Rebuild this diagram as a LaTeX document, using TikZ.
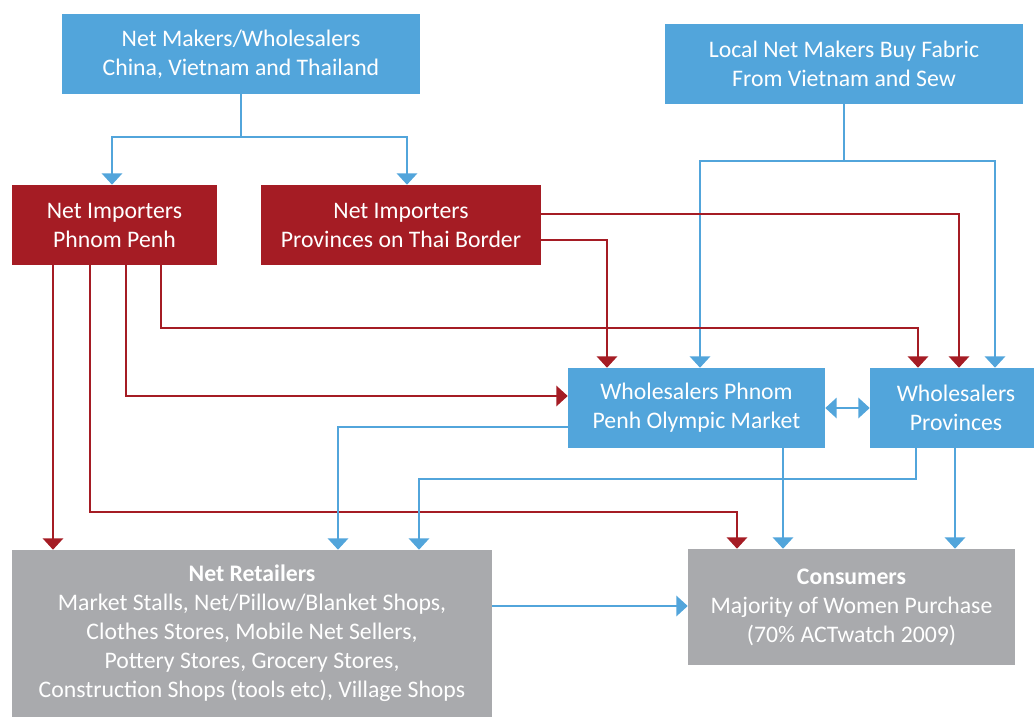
\documentclass[tikz,border=0pt]{standalone}
\usepackage{fontspec}
\setmainfont{Carlito}
\usetikzlibrary{arrows.meta}
\definecolor{cblue}{HTML}{52A5DB}
\definecolor{cred}{HTML}{A51C24}
\definecolor{cgray}{HTML}{A9AAAD}
\begin{document}
\begin{tikzpicture}[x=0.75pt,y=-0.75pt,
  box/.style={inner sep=0pt, text=white, align=center, font=\fontsize{17.8}{21.75}\selectfont},
  bbox/.style={box, fill=cblue},
  rbox/.style={box, fill=cred},
  gbox/.style={box, fill=cgray},
  bl/.style={draw=cblue, line width=2.1pt},
  rd/.style={draw=cred, line width=2.1pt},
  tip/.style={-{Triangle[width=15pt,length=8.5pt]}},
  tips/.style={{Triangle[width=15pt,length=8.5pt]}-{Triangle[width=15pt,length=8.5pt]}}
]
\useasboundingbox (0,0) rectangle (1034,717);
\node[bbox, minimum width={358*0.75pt}, minimum height={80*0.75pt}] (nm) at (241,54) {Net Makers/Wholesalers\\China, Vietnam and Thailand};
\node[bbox, minimum width={358*0.75pt}, minimum height={80*0.75pt}] (lm) at (844,64) {Local Net Makers Buy Fabric\\From Vietnam and Sew};
\node[rbox, minimum width={205*0.75pt}, minimum height={80*0.75pt}] (ipp) at (114.5,225) {Net Importers\\Phnom Penh};
\node[rbox, minimum width={280*0.75pt}, minimum height={80*0.75pt}] (itb) at (401,225) {Net Importers\\Provinces on Thai Border};
\node[bbox, minimum width={257*0.75pt}, minimum height={80*0.75pt}] (wol) at (696.5,408) {Wholesalers Phnom\\Penh Olympic Market};
\node[bbox, minimum width={164*0.75pt}, minimum height={80*0.75pt}] (wpr) at (952,408) {\hspace*{6pt}Wholesalers\\\hspace*{6pt}Provinces};
\node[gbox, minimum width={480*0.75pt}, minimum height={167*0.75pt}] (ret) at (252,633.5) {\textbf{Net Retailers}\\Market Stalls, Net/Pillow/Blanket Shops,\\Clothes Stores, Mobile Net Sellers,\\Pottery Stores, Grocery Stores,\\Construction Shops (tools etc), Village Shops};
\node[gbox, minimum width={327*0.75pt}, minimum height={116*0.75pt}] (con) at (851.5,607) {\textbf{Consumers}\\Majority of Women Purchase\\(70\% ACTwatch 2009)};

% top-left maker to importers
\coordinate (j1) at (nm.south |- 0,137);
\draw[bl] (nm.south) -- (j1);
\draw[bl,tip] (j1) -| (112,0 |- ipp.north);
\draw[bl,tip] (j1) -| (407,0 |- itb.north);
% local makers to wholesalers
\coordinate (j2) at (lm.south |- 0,161);
\draw[bl] (lm.south) -- (j2);
\draw[bl,tip] (j2) -| (700,0 |- wol.north);
\draw[bl,tip] (j2) -| (995,0 |- wpr.north);
% thai border importers
\draw[rd,tip] (itb.east |- 0,214) -| (959,0 |- wpr.north);
\draw[rd,tip] (itb.east |- 0,240) -| (607,0 |- wol.north);
% phnom penh importers
\draw[rd,tip] (161,0 |- ipp.south) |- (918,328) -- (918,0 |- wpr.north);
\draw[rd,tip] (126,0 |- ipp.south) |- (wol.west |- 0,396);
\draw[rd,tip] (90,0 |- ipp.south) |- (737,512) -- (737,0 |- con.north);
\draw[rd,tip] (53,0 |- ipp.south) -- (53,0 |- ret.north);
% wholesalers
\draw[bl,tips] (wol.east) -- (wpr.west);
\draw[bl,tip] (wol.west |- 0,427) -| (338,0 |- ret.north);
\draw[bl,tip] (916,0 |- wpr.south) |- (419,479) -- (419,0 |- ret.north);
\draw[bl,tip] (783,0 |- wol.south) -- (783,0 |- con.north);
\draw[bl,tip] (955,0 |- wpr.south) -- (955,0 |- con.north);
% retailers to consumers
\draw[bl,tip] (ret.east |- 0,606) -- (con.west |- 0,606);
\end{tikzpicture}
\end{document}
